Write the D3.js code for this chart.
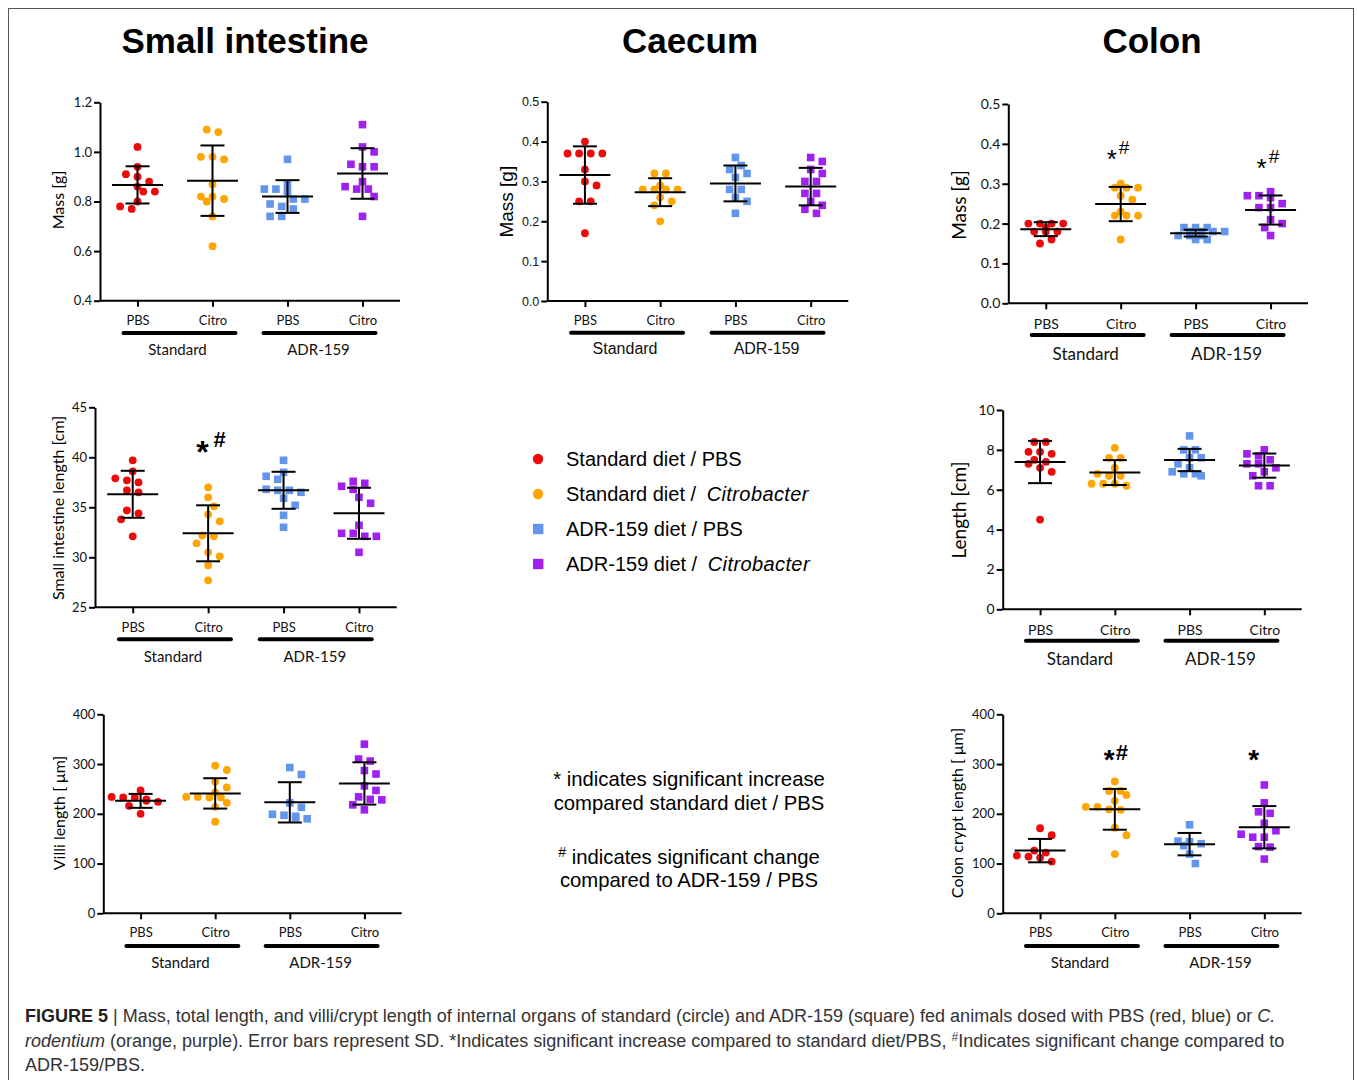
<!DOCTYPE html>
<html><head><meta charset="utf-8">
<script src="https://cdn.jsdelivr.net/npm/d3@7"></script>
<style>body{margin:0;background:#fff}</style>
</head><body><svg id="fig" width="1357" height="1080"></svg>
<script>
// ---------------- DATA ----------------
const categories = ["PBS", "Citro", "PBS", "Citro"];
const dietGroups = ["Standard", "ADR-159"];
const organTitles = ["Small intestine", "Caecum", "Colon"];
const legendLabels = [["Standard diet / ", "PBS"], ["Standard diet / ", "Citrobacter"], ["ADR-159 diet / ", "PBS"], ["ADR-159 diet / ", "Citrobacter"]];

// order in each: [Std/PBS, Std/Citro, ADR/PBS, ADR/Citro]
const siMass = [
  [1.02,0.94,0.91,0.90,0.88,0.86,0.84,0.84,0.80,0.78,0.77],
  [1.09,1.08,0.98,0.98,0.97,0.87,0.82,0.82,0.81,0.80,0.74,0.62],
  [0.97,0.87,0.85,0.85,0.84,0.81,0.81,0.79,0.78,0.77,0.74,0.74],
  [1.11,1.02,1.00,0.95,0.94,0.94,0.88,0.86,0.85,0.85,0.82,0.74]];
const siMassMean = [0.867, 0.884, 0.820, 0.913];
const siMassSD = [0.075, 0.142, 0.066, 0.102];

const caecumMass = [
  [0.40,0.37,0.37,0.37,0.37,0.33,0.30,0.29,0.25,0.25,0.17],
  [0.32,0.32,0.29,0.28,0.28,0.28,0.28,0.26,0.25,0.24,0.20],
  [0.36,0.34,0.33,0.32,0.31,0.28,0.28,0.26,0.25,0.22],
  [0.36,0.35,0.33,0.32,0.30,0.30,0.27,0.27,0.25,0.24,0.23,0.22]];
const caecumMassMean = [0.316, 0.273, 0.295, 0.287];
const caecumMassSD = [0.072, 0.035, 0.045, 0.047];

const colonMass = [
  [0.20,0.20,0.20,0.20,0.19,0.18,0.18,0.18,0.16,0.15],
  [0.30,0.29,0.29,0.29,0.27,0.26,0.23,0.22,0.22,0.22,0.16],
  [0.19,0.19,0.19,0.18,0.18,0.18,0.18,0.17,0.17,0.17,0.16,0.16],
  [0.28,0.27,0.27,0.265,0.25,0.24,0.24,0.21,0.20,0.19,0.17]];
const colonMassMean = [0.186, 0.249, 0.176, 0.234];
const colonMassSD = [0.0175, 0.043, 0.0085, 0.0365];

const siLength = [
  [39.7,38.6,37.9,37.7,37.5,36.7,36.5,34.7,34.4,33.8,32.1],
  [37.0,36.0,35.1,34.3,33.6,32.2,32.1,31.4,30.5,30.1,29.2,27.7],
  [39.7,38.5,38.1,37.8,36.8,36.7,36.7,36.5,35.9,35.2,34.2,33.0],
  [37.6,37.4,37.1,36.8,36.0,35.4,33.2,32.4,32.4,32.1,32.1,30.5]];
const siLengthMean = [36.3, 32.4, 36.7, 34.4];
const siLengthSD = [2.35, 2.8, 1.85, 2.55];

const colonLength = [
  [8.4,8.4,7.9,7.9,7.8,7.5,7.4,7.3,7.1,6.9,4.5],
  [8.1,7.6,7.6,7.1,6.8,6.7,6.7,6.3,6.3,6.3,6.2],
  [8.7,8.0,8.0,7.6,7.6,7.3,7.1,6.9,6.8,6.8,6.7],
  [8.0,7.8,7.7,7.5,7.3,7.3,7.1,6.9,6.7,6.2,6.2]];
const colonLengthMean = [7.39, 6.86, 7.49, 7.21];
const colonLengthSD = [1.06, 0.625, 0.56, 0.605];

const villiLength = [
  [247,234,233,233,229,226,224,216,200],
  [297,288,265,253,243,234,234,233,233,222,214,184],
  [293,279,222,213,199,197,195,192,190],
  [340,310,306,287,280,256,247,234,229,228,218,208]];
const villiLengthMean = [226, 241, 223, 261];
const villiLengthSD = [14, 30.5, 40.5, 42.5];

const cryptLength = [
  [171,157,126,122,116,114,112,104],
  [265,246,246,238,226,214,214,209,208,172,157,119],
  [178,145,144,140,136,119,100],
  [258,222,204,201,181,166,159,153,153,134,133,109]];
const cryptLengthMean = [126, 209, 139, 173];
const cryptLengthSD = [23.5, 41, 22.5, 42.5];

const ticksSiMass = [0.4, 0.6, 0.8, 1.0, 1.2];
const ticksMass = [0.0, 0.1, 0.2, 0.3, 0.4, 0.5];
const ticksSiLength = [25, 30, 35, 40, 45];
const ticksColonLength = [0, 2, 4, 6, 8, 10];
const ticksMicron = [0, 100, 200, 300, 400];

// significance marks: panel index, category index, text, anchor value (baseline of the mark)
const sigMarks = [
  {panel: 2, cat: 1, text: "*#", value: 0.34},
  {panel: 2, cat: 3, text: "*#", value: 0.318},
  {panel: 3, cat: 1, text: "*#", value: 39.4},
  {panel: 6, cat: 1, text: "*#", value: 290},
  {panel: 6, cat: 3, text: "*", value: 290}];

// ---------------- LAYOUT ----------------
const colors = ["#ec0a0a", "#ffa500", "#6495ed", "#a020f0"];
const shapes = ["circle", "circle", "square", "square"];
const LATO = "Lato, 'Open Sans', sans-serif";
const ARIAL = "'Liberation Sans', Arial, sans-serif";

const panels = [
  {vals: siMass, mean: siMassMean, sd: siMassSD, domain: [0.4, 1.2], ticks: ticksSiMass, fmt: ".1f",
   x0: 100, x1: 400, yTop: 102.3, yBot: 300.7, ylabel: "Mass [g]", lx: -43, ly: 200, lfs: 16, lfont: LATO,
   tfs: 13, tfont: LATO, cfs: 13, gfs: 15, gfont: LATO, catDy: 19.3, barDy: 32.3, grpDy: 48.3},
  {vals: caecumMass, mean: caecumMassMean, sd: caecumMassSD, domain: [0, 0.5], ticks: ticksMass, fmt: ".1f",
   x0: 547.3, x1: 848.3, yTop: 101.7, yBot: 301, ylabel: "Mass [g]", lx: -41, ly: 201.7, lfs: 19, lfont: ARIAL,
   tfs: 12.5, tfont: ARIAL, cfs: 13, gfs: 16, gfont: ARIAL, catDy: 19, barDy: 31.7, grpDy: 47.3},
  {vals: colonMass, mean: colonMassMean, sd: colonMassSD, domain: [0, 0.5], ticks: ticksMass, fmt: ".1f",
   x0: 1008.3, x1: 1308, yTop: 104, yBot: 303.3, ylabel: "Mass [g]", lx: -50, ly: 205, lfs: 19, lfont: LATO,
   tfs: 14, tfont: LATO, cfs: 14, gfs: 17, gfont: LATO, catDy: 20, barDy: 31.7, grpDy: 50},
  {vals: siLength, mean: siLengthMean, sd: siLengthSD, domain: [25, 45], ticks: ticksSiLength, fmt: "d",
   x0: 95, x1: 396.7, yTop: 407.3, yBot: 607.3, ylabel: "Small intestine length [cm]", lx: -38, ly: 508, lfs: 16, lfont: LATO,
   tfs: 13, tfont: LATO, cfs: 13, gfs: 15, gfont: LATO, catDy: 19.4, barDy: 32, grpDy: 48.7},
  {vals: colonLength, mean: colonLengthMean, sd: colonLengthSD, domain: [0, 10], ticks: ticksColonLength, fmt: "d",
   x0: 1002.7, x1: 1301.7, yTop: 410, yBot: 609.3, ylabel: "Length [cm]", lx: -44, ly: 510, lfs: 19, lfont: LATO,
   tfs: 14, tfont: LATO, cfs: 14, gfs: 17, gfont: LATO, catDy: 20.7, barDy: 31.4, grpDy: 49},
  {vals: villiLength, mean: villiLengthMean, sd: villiLengthSD, domain: [0, 400], ticks: ticksMicron, fmt: "d",
   x0: 103.3, x1: 401.7, yTop: 714.3, yBot: 913.3, ylabel: "Villi length [ \u03bcm]", lx: -45, ly: 813, lfs: 16, lfont: LATO,
   tfs: 13, tfont: LATO, cfs: 13, gfs: 15, gfont: LATO, catDy: 18.4, barDy: 32.7, grpDy: 48.4},
  {vals: cryptLength, mean: cryptLengthMean, sd: cryptLengthSD, domain: [0, 400], ticks: ticksMicron, fmt: "d",
   x0: 1002.7, x1: 1301.7, yTop: 714.3, yBot: 913.3, ylabel: "Colon crypt length [ \u03bcm]", lx: -46, ly: 813, lfs: 16, lfont: LATO,
   tfs: 13, tfont: LATO, cfs: 13, gfs: 15, gfont: LATO, catDy: 19, barDy: 32.7, grpDy: 49}
];
const sigStyle = {
  2: {star: 26, hash: 19, hashDy: -14, bold: false, dx: -14, hdx: 2},
  3: {star: 32, hash: 22, hashDy: -16, bold: true, dx: -12, hdx: 5},
  6: {star: 28, hash: 22, hashDy: -9, bold: true, dx: -11, hdx: 1}
};
const sigDxOverride = {"6-3": -16};

const svg = d3.select("#fig");
// frame
svg.append("rect").attr("x", 8.5).attr("y", 8.5).attr("width", 1345).attr("height", 1100)
  .attr("fill", "none").attr("stroke", "#555").attr("stroke-width", 1);

// titles
const titleX = [245, 690, 1152];
svg.selectAll("text.title").data(organTitles).join("text").attr("class", "title")
  .attr("x", (d, i) => titleX[i]).attr("y", 53).attr("text-anchor", "middle")
  .attr("font-family", ARIAL).attr("font-weight", "bold").attr("font-size", 35).attr("fill", "#000").text(d => d);

// GraphPad-like scatter layout: points with nearly equal y form a centred row
function swarm(vals, y, cx, sep, thr) {
  const pts = vals.map(v => ({v, py: y(v)})).sort((a, b) => a.py - b.py);
  const rows = [];
  pts.forEach(p => {
    const r = rows[rows.length - 1];
    if (r && p.py - r[0].py < thr) r.push(p); else rows.push([p]);
  });
  const placed = [];
  rows.forEach(r => {
    const n = r.length;
    const base = r.map((p, i) => (i - (n - 1) / 2) * sep);
    const cost = shift => {
      let c = 0;
      r.forEach((p, i) => placed.forEach(q => {
        const d = Math.hypot(q.off - (base[i] + shift), q.py - p.py);
        if (d < sep * 0.85) c += sep * 0.85 - d;
      }));
      return c + Math.abs(shift) * 0.01;
    };
    const shifts = [0, sep / 2, -sep / 2, sep, -sep];
    let best = 0, bc = Infinity;
    shifts.forEach(s => { const c = cost(s); if (c < bc - 1e-9) { bc = c; best = s; } });
    r.forEach((p, i) => { p.off = base[i] + best; placed.push(p); });
  });
  return pts.map(p => ({v: p.v, x: cx + p.off, y: p.py}));
}

panels.forEach((P, pi) => {
  const g = svg.append("g");
  const x = d3.scalePoint().domain([0, 1, 2, 3]).range([P.x0, P.x1]).padding(0.5);
  const y = d3.scaleLinear().domain(P.domain).range([P.yBot, P.yTop]);

  // points
  P.vals.forEach((vals, si) => {
    const pts = swarm(vals, y, x(si), 11.6, 3.2);
    if (shapes[si] === "circle") {
      g.selectAll(null).data(pts).join("circle").attr("cx", d => d.x).attr("cy", d => d.y).attr("r", 3.9).attr("fill", colors[si]);
    } else {
      g.selectAll(null).data(pts).join("rect").attr("x", d => d.x - 3.8).attr("y", d => d.y - 3.8)
        .attr("width", 7.6).attr("height", 7.6).attr("fill", colors[si]);
    }
  });
  // mean & SD
  P.mean.forEach((m, si) => {
    const cx = x(si), s = P.sd[si];
    const lines = [[cx - 25.5, y(m), cx + 25.5, y(m)], [cx - 12, y(m + s), cx + 12, y(m + s)],
                   [cx - 12, y(m - s), cx + 12, y(m - s)], [cx, y(m + s), cx, y(m - s)]];
    g.selectAll(null).data(lines).join("line").attr("x1", d => d[0]).attr("y1", d => d[1]).attr("x2", d => d[2]).attr("y2", d => d[3])
      .attr("stroke", "#000").attr("stroke-width", 2);
  });

  // y axis
  const ya = g.append("g").attr("transform", `translate(${P.x0},0)`)
    .call(d3.axisLeft(y).tickValues(P.ticks).tickFormat(d3.format(P.fmt)).tickSize(6).tickSizeOuter(0).tickPadding(2));
  // x axis
  const xa = g.append("g").attr("transform", `translate(0,${P.yBot})`)
    .call(d3.axisBottom(x).tickFormat(i => categories[i]).tickSize(6).tickSizeOuter(0).tickPadding(0));
  [ya, xa].forEach(a => {
    a.select(".domain").attr("stroke", "#000").attr("stroke-width", 2);
    a.selectAll(".tick line").attr("stroke", "#000").attr("stroke-width", 2);
  });
  ya.selectAll("text").attr("font-family", P.tfont).attr("font-size", P.tfs).attr("fill", "#111");
  xa.selectAll("text").attr("font-family", LATO).attr("font-size", P.cfs).attr("fill", "#111")
    .attr("y", P.catDy).attr("dy", null).attr("dominant-baseline", "central");
  xa.select(".domain").attr("d", `M${P.x0},0H${P.x1}`);

  // group bars & labels
  dietGroups.forEach((gl, gi) => {
    const mid = (x(gi * 2) + x(gi * 2 + 1)) / 2 + (gi === 0 ? 4.5 : -5.5);
    g.append("line").attr("x1", mid - 56).attr("x2", mid + 56).attr("y1", P.yBot + P.barDy).attr("y2", P.yBot + P.barDy)
      .attr("stroke", "#000").attr("stroke-width", 4).attr("stroke-linecap", "round");
    g.append("text").attr("x", mid + (gi === 0 ? -2 : -1)).attr("y", P.yBot + P.grpDy).attr("text-anchor", "middle")
      .attr("dominant-baseline", "central").attr("font-family", P.gfont).attr("font-size", P.gfs).attr("fill", "#111").text(gl);
  });

  // y label
  g.append("text").attr("transform", `translate(${P.x0 + P.lx},${P.ly}) rotate(-90)`).attr("text-anchor", "middle")
    .attr("dominant-baseline", "central").attr("font-family", P.lfont).attr("font-size", P.lfs).attr("fill", "#000").text(P.ylabel);

  // significance marks
  sigMarks.filter(s => s.panel === pi).forEach(s => {
    const st = sigStyle[pi];
    const dx = sigDxOverride[`${pi}-${s.cat}`] ?? st.dx;
    const t = g.append("text").attr("x", x(s.cat) + dx).attr("y", y(s.value)).attr("font-family", ARIAL).attr("fill", "#000");
    t.append("tspan").attr("font-size", st.star).attr("font-weight", st.bold ? "bold" : "normal").text("*");
    if (s.text.includes("#")) {
      t.append("tspan").attr("font-size", st.hash).attr("font-weight", st.bold ? "bold" : "normal")
        .attr("dx", st.hdx).attr("dy", st.hashDy).text("#");
    }
  });
});

// legend
const lg = svg.append("g").attr("font-family", ARIAL).attr("font-size", 20).attr("fill", "#000");
legendLabels.forEach((l, i) => {
  const cy = 459 + i * 35;
  if (shapes[i] === "circle") lg.append("circle").attr("cx", 538).attr("cy", cy).attr("r", 5.2).attr("fill", colors[i]);
  else lg.append("rect").attr("x", 533).attr("y", cy - 5.2).attr("width", 10.4).attr("height", 10.4).attr("fill", colors[i]);
  const t = lg.append("text").attr("x", 566).attr("y", cy + 7);
  t.append("tspan").text(l[0]);
  t.append("tspan").attr("font-style", l[1] === "Citrobacter" ? "italic" : "normal").attr("dx", l[1] === "Citrobacter" ? 5 : 0)
    .attr("letter-spacing", l[1] === "Citrobacter" ? 0.4 : 0).text(l[1]);
});

// footnotes
const fn = svg.append("g").attr("font-family", ARIAL).attr("font-size", 20.3).attr("fill", "#000").attr("text-anchor", "middle");
fn.append("text").attr("x", 689).attr("y", 786).text("* indicates significant increase");
fn.append("text").attr("x", 689).attr("y", 810).text("compared standard diet / PBS");
const f3 = fn.append("text").attr("x", 689).attr("y", 864);
f3.append("tspan").attr("font-size", 14).attr("dy", -7).text("#");
f3.append("tspan").attr("dy", 7).text(" indicates significant change");
fn.append("text").attr("x", 689).attr("y", 887).text("compared to ADR-159 / PBS");

// caption
const cap = svg.append("g").attr("font-family", ARIAL).attr("font-size", 18).attr("fill", "#333");
const c1 = cap.append("text").attr("x", 25).attr("y", 1022);
c1.append("tspan").attr("font-weight", "bold").attr("fill", "#222").text("FIGURE 5");
c1.append("tspan").text(" | Mass, total length, and villi/crypt length of internal organs of standard (circle) and ADR-159 (square) fed animals dosed with PBS (red, blue) or ");
c1.append("tspan").attr("font-style", "italic").text("C.");
const c2 = cap.append("text").attr("x", 25).attr("y", 1047);
c2.append("tspan").attr("font-style", "italic").text("rodentium");
c2.append("tspan").text(" (orange, purple). Error bars represent SD. *Indicates significant increase compared to standard diet/PBS, ");
c2.append("tspan").attr("font-size", 12).attr("dy", -6).text("#");
c2.append("tspan").attr("dy", 6).text("Indicates significant change compared to");
cap.append("text").attr("x", 25).attr("y", 1071).text("ADR-159/PBS.");
</script></body></html>
